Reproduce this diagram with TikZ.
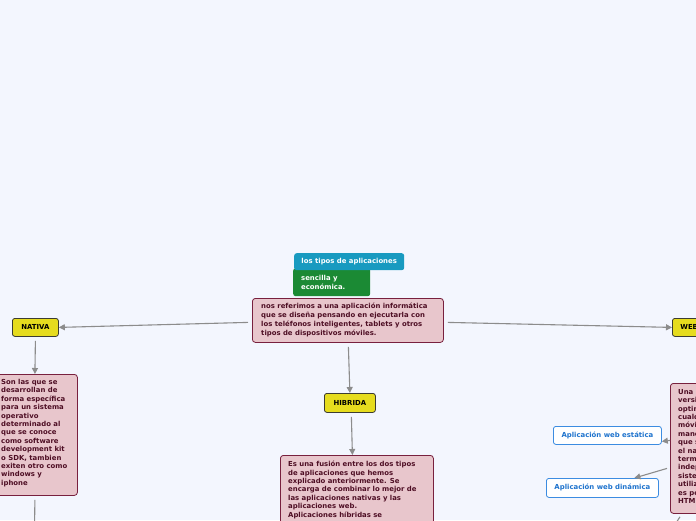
\documentclass[tikz,border=0pt]{standalone}
\usepackage{fontspec}
\setmainfont{DejaVu Sans}
\usetikzlibrary{arrows.meta}
\definecolor{bgc}{RGB}{243,246,254}
\definecolor{pinkfill}{RGB}{232,198,204}
\definecolor{pinkdraw}{RGB}{120,32,62}
\definecolor{pinktext}{RGB}{78,14,36}
\definecolor{yellowc}{RGB}{230,220,30}
\definecolor{yellowdraw}{RGB}{60,60,50}
\definecolor{greenc}{RGB}{27,138,52}
\definecolor{bluec}{RGB}{24,154,192}
\definecolor{linkblue}{RGB}{30,115,205}
\definecolor{linkdraw}{RGB}{60,140,225}
\definecolor{arrowgrey}{RGB}{140,140,140}
\tikzset{
  fnt/.style={font=\bfseries\fontsize{6.9}{#1}\selectfont},
  pinkbox/.style={draw=pinkdraw, fill=pinkfill, line width=0.8pt, rounded corners=3pt, anchor=north west, inner sep=0pt},
  pinktxt/.style={text=pinktext, align=left, anchor=north west, inner sep=0pt},
  yellowbox/.style={draw=yellowdraw, fill=yellowc, line width=0.8pt, rounded corners=2.5pt, anchor=north west, inner sep=0pt, fnt=9, text=black},
  linkbox/.style={draw=linkdraw, fill=white, line width=0.8pt, rounded corners=2.5pt, anchor=north west, inner sep=0pt, fnt=9, text=linkblue},
  arr/.style={draw=arrowgrey, line width=1.1pt, -{Triangle[length=6pt,width=6pt]}},
  plain/.style={draw=arrowgrey, line width=1.1pt}
}
\begin{document}
\begin{tikzpicture}[x=1pt,y=-1pt]
\useasboundingbox (0,0) rectangle (696,520);
\fill[bgc] (0,0) rectangle (696,520);

% green and blue boxes
\node[draw=none, fill=greenc, rounded corners=2.5pt, anchor=north west, inner sep=0pt, minimum width=77pt, minimum height=28pt] (verde) at (293,268) {};
\node[text=white, fnt=9, align=left, anchor=north west, inner sep=0pt] (verdetxt) at (301,275) {sencilla y\\económica.};
\node[fill=bluec, rounded corners=2.5pt, anchor=north west, inner sep=0pt, minimum width=110pt, minimum height=17pt, text=white, fnt=9] (tipos) at (294,253) {los tipos de aplicaciones};

% central box
\node[pinkbox, minimum width=191pt, minimum height=44pt] (centro) at (252,298) {};
\node[pinktxt, fnt=9] (centrotxt) at (261,303) {nos referimos a una aplicación informática\\que se diseña pensando en ejecutarla con\\los teléfonos inteligentes, tablets y otros\\tipos de dispositivos móviles.};

% yellow boxes
\node[yellowbox, minimum width=46pt, minimum height=18pt] (nativa) at (12,318) {NATIVA};
\node[yellowbox, minimum width=51pt, minimum height=19pt] (hibrida) at (324,393) {HIBRIDA};
\node[yellowbox, minimum width=40pt, minimum height=18pt, align=left, text width=30pt, inner xsep=8pt] (web) at (672,318) {WEB};

% nativa box
\node[pinkbox, minimum width=85pt, minimum height=121pt] (natbox) at (-8,374) {};
\node[pinktxt, fnt=8.4] (nattxt) at (1,379) {Son las que se\\desarrollan de\\forma específica\\para un sistema\\operativo\\determinado al\\que se conoce\\como software\\development kit\\o SDK, tambien\\exiten otro como\\windows y\\iphone};

% hibrida box
\node[pinkbox, minimum width=153pt, minimum height=90pt] (hibbox) at (280,455) {};
\node[pinktxt, fnt=8.4] (hibtxt) at (288,461) {Es una fusión entre los dos tipos\\de aplicaciones que hemos\\explicado anteriormente. Se\\encarga de combinar lo mejor de\\las aplicaciones nativas y las\\aplicaciones web.\\Aplicaciones híbridas se};

% web box
\node[pinkbox, minimum width=45pt, minimum height=130pt] (webbox) at (670,383) {};
\node[pinktxt, fnt=8.4] (webtxt) at (678,389) {Una\\versión\\optimizada\\cualquier\\móvil\\manera\\que se\\el navegador\\terminal\\independiente\\sistema\\utilizado\\es por\\HTML};

% link boxes
\node[linkbox, minimum width=108pt, minimum height=18pt] (estatica) at (553,426) {Aplicación web estática};
\node[linkbox, minimum width=112pt, minimum height=19pt] (dinamica) at (546,478) {Aplicación web dinámica};

% connectors
\draw[arr] ([xshift=-4pt,yshift=-2pt]centro.west) -- (nativa.east);
\draw[arr] ([xshift=4pt,yshift=-2pt]centro.east) -- (web.west);
\draw[arr] ([xshift=0.5pt,yshift=-4pt]centro.south) -- (hibrida.north);
\draw[arr] ([xshift=1.5pt,yshift=-4pt]hibrida.south) -- ([xshift=-4.5pt]hibbox.north);
\draw[arr] ([yshift=-4pt]nativa.south) -- (natbox.north);
\coordinate (natdown) at (34.5,530);
\draw[plain] ([yshift=-4pt]natbox.south) -- (natdown);
\draw[arr] ([yshift=8pt]webbox.west) -- ([yshift=-6pt]estatica.east);
\draw[arr] ([xshift=-3pt,yshift=-20pt]webbox.west) -- ([xshift=32pt]dinamica.north);
\coordinate (webdown) at (674,526);
\draw[plain] ([xshift=10pt,yshift=-3pt]webbox.south west) -- (webdown);
\end{tikzpicture}
\end{document}
